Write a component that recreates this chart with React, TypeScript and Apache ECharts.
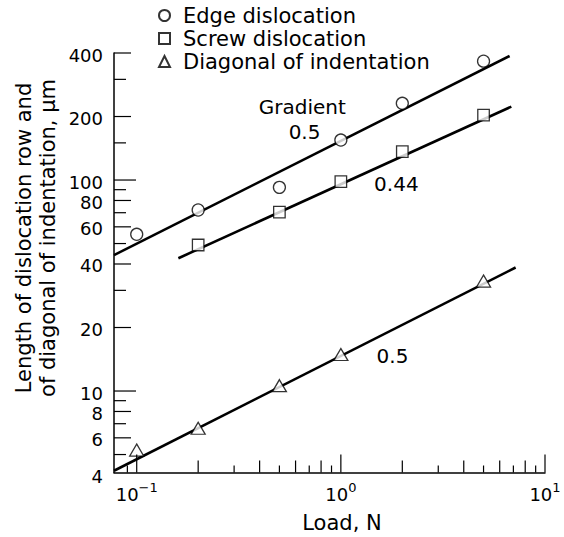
import React, { useEffect, useRef } from "react";
import * as echarts from "echarts";

// ---------- data ----------
const SERIES_NAMES = ["Edge dislocation", "Screw dislocation", "Diagonal of indentation"];

const EDGE_LOADS = [0.1, 0.2, 0.5, 1, 2, 5];
const EDGE_VALUES = [55.3, 72.1, 92.3, 154.7, 231, 366];

const SCREW_LOADS = [0.2, 0.5, 1, 2, 5];
const SCREW_VALUES = [49.2, 70.4, 98.3, 136.3, 203];

const DIAG_LOADS = [0.1, 0.2, 0.5, 1, 5];
const DIAG_VALUES = [5.25, 6.66, 10.6, 14.9, 33.2];

const EDGE_FIT_X = [0.0774, 6.71];
const EDGE_FIT_Y = [44.1, 387];
const SCREW_FIT_X = [0.16, 6.84];
const SCREW_FIT_Y = [42.6, 222.8];
const DIAG_FIT_X = [0.0774, 7.18];
const DIAG_FIT_Y = [4.19, 38.5];

const X_MIN = 0.0774;
const X_MAX = 10;
const Y_MIN = 4.11;
const Y_MAX = 400;

const X_TICKS = [0.09, 0.1, 0.2, 0.3, 0.4, 0.5, 0.6, 0.7, 0.8, 0.9, 1, 2, 3, 4, 5, 6, 7, 8, 9, 10];
const Y_TICKS = [5, 6, 7, 8, 9, 10, 20, 30, 40, 50, 60, 70, 80, 90, 100, 150, 200, 300, 400];
const Y_LABELS = [4, 6, 8, 10, 20, 40, 60, 80, 100, 200, 400];

const ANNOTATION_TEXTS = ["Gradient", "0.5", "0.44", "0.5"];
const ANNOTATION_X = [0.647, 0.664, 1.87, 1.79];
const ANNOTATION_Y = [221, 168, 95.4, 14.7];

const Y_TITLE = "Length of dislocation row and\nof diagonal of indentation, \u03bcm";
const X_TITLE = "Load, N";

// ---------- styles ----------
const FONT = "DejaVu Sans";
const X_TICK_LEN: Record<string, number> = { major: 18, even: 12, odd: 7 };
const Y_TICK_LEN: Record<string, number> = { major: 22, even: 17, odd: 12 };

function tickKind(v: number): string {
  const e = Math.floor(Math.log10(v) + 1e-9);
  const m = v / Math.pow(10, e);
  if (Math.abs(m - 1) < 1e-6) return "major";
  const r = Math.round(m);
  if (Math.abs(m - r) < 1e-6 && r % 2 === 0) return "even";
  return "odd";
}

const zip = (xs: number[], ys: number[]) => xs.map((x, i) => [x, ys[i]]);

const markerStyle = { color: "#fff", borderColor: "#000", borderWidth: 1.3 };
const fitStyle = { color: "#000", width: 2.6 };

export default function App() {
  const ref = useRef<HTMLDivElement>(null);

  useEffect(() => {
    if (!ref.current) return;
    const chart = echarts.init(ref.current, undefined, { renderer: "svg" });

    const option: any = {
      animation: false,
      backgroundColor: "#fff",
      grid: { left: 114, right: 19, top: 53, bottom: 64.5, containLabel: false },
      legend: {
        data: SERIES_NAMES.map((n) => ({ name: n })),
        orient: "vertical",
        left: 158,
        top: 4,
        padding: 0,
        itemGap: 0,
        itemWidth: 11,
        itemHeight: 11,
        selectedMode: false,
        textStyle: {
          fontSize: 21,
          fontFamily: FONT,
          color: "#000",
          lineHeight: 23,
          padding: [0, 0, 0, 8],
        },
      },
      xAxis: {
        type: "log",
        logBase: 10,
        min: X_MIN,
        max: X_MAX,
        axisLine: { lineStyle: { color: "#000", width: 1.5 } },
        axisTick: { show: false },
        minorTick: { show: false },
        splitLine: { show: false },
        axisLabel: {
          margin: 8,
          formatter: (v: number) => {
            const l = Math.log10(v);
            const e = Math.round(l);
            if (Math.abs(l - e) > 1e-6) return "";
            return `{b|10}{s|${e < 0 ? "\u2212" : ""}${Math.abs(e)}}`;
          },
          rich: {
            b: { fontSize: 18, fontFamily: FONT, color: "#000", lineHeight: 28 },
            s: { fontSize: 13, fontFamily: FONT, color: "#000", lineHeight: 13, verticalAlign: "top" },
          },
        },
      },
      yAxis: {
        type: "log",
        logBase: 10,
        min: Y_MIN,
        max: Y_MAX,
        axisLine: { lineStyle: { color: "#000", width: 1.5 } },
        axisTick: { show: false },
        minorTick: { show: false },
        splitLine: { show: false },
        axisLabel: { show: false },
      },
      graphic: [
        {
          type: "text",
          x: 36,
          y: 238,
          rotation: Math.PI / 2,
          style: {
            text: Y_TITLE,
            align: "center",
            verticalAlign: "middle",
            textAlign: "center",
            textVerticalAlign: "middle",
            fontSize: 21,
            fontFamily: FONT,
            lineHeight: 24.5,
            fill: "#000",
          },
        },
        {
          type: "text",
          x: 342,
          y: 523,
          style: {
            text: X_TITLE,
            align: "center",
            verticalAlign: "middle",
            textAlign: "center",
            textVerticalAlign: "middle",
            fontSize: 21,
            fontFamily: FONT,
            fill: "#000",
          },
        },
      ],
      series: [
        {
          type: "line",
          data: zip(EDGE_FIT_X, EDGE_FIT_Y),
          symbol: "none",
          lineStyle: fitStyle,
          silent: true,
          z: 2,
        },
        {
          type: "line",
          data: zip(SCREW_FIT_X, SCREW_FIT_Y),
          symbol: "none",
          lineStyle: fitStyle,
          silent: true,
          z: 2,
        },
        {
          type: "line",
          data: zip(DIAG_FIT_X, DIAG_FIT_Y),
          symbol: "none",
          lineStyle: fitStyle,
          silent: true,
          z: 2,
        },
        {
          name: SERIES_NAMES[0],
          type: "scatter",
          data: zip(EDGE_LOADS, EDGE_VALUES),
          symbol: "circle",
          symbolSize: 12,
          itemStyle: markerStyle,
          z: 3,
        },
        {
          name: SERIES_NAMES[1],
          type: "scatter",
          data: zip(SCREW_LOADS, SCREW_VALUES),
          symbol: "rect",
          symbolSize: 11.5,
          itemStyle: markerStyle,
          z: 3,
        },
        {
          name: SERIES_NAMES[2],
          type: "scatter",
          data: zip(DIAG_LOADS, DIAG_VALUES),
          symbol: "triangle",
          symbolSize: [14, 12],
          itemStyle: markerStyle,
          z: 3,
        },
        // x-axis ticks
        {
          type: "custom",
          silent: true,
          clip: false,
          z: 4,
          data: X_TICKS.map((v) => [v, Y_MIN]),
          encode: { x: 0, y: 1 },
          renderItem: (_p: any, api: any) => {
            const v = api.value(0);
            const pt = api.coord([v, Y_MIN]);
            const len = X_TICK_LEN[tickKind(v)];
            return {
              type: "line",
              shape: { x1: pt[0], y1: pt[1], x2: pt[0], y2: pt[1] - len },
              style: { stroke: "#000", lineWidth: 1.2 },
            };
          },
        },
        // y-axis ticks
        {
          type: "custom",
          silent: true,
          clip: false,
          z: 4,
          data: Y_TICKS.map((v) => [X_MIN, v]),
          encode: { x: 0, y: 1 },
          renderItem: (_p: any, api: any) => {
            const v = api.value(1);
            const pt = api.coord([X_MIN, v]);
            const len = Y_TICK_LEN[tickKind(v)];
            return {
              type: "line",
              shape: { x1: pt[0], y1: pt[1], x2: pt[0] + len, y2: pt[1] },
              style: { stroke: "#000", lineWidth: 1.2 },
            };
          },
        },
        // y-axis labels
        {
          type: "custom",
          silent: true,
          clip: false,
          z: 4,
          data: Y_LABELS.map((v) => [X_MIN, v]),
          encode: { x: 0, y: 1 },
          renderItem: (_p: any, api: any) => {
            const v = api.value(1);
            const pt = api.coord([X_MIN, v]);
            return {
              type: "text",
              x: pt[0] - 11,
              y: pt[1] + 2,
              style: {
                text: String(v),
                align: "right",
                verticalAlign: "middle",
                textAlign: "right",
                textVerticalAlign: "middle",
                fontSize: 18,
                fontFamily: FONT,
                fill: "#000",
              },
            };
          },
        },
        // annotations
        {
          type: "custom",
          silent: true,
          clip: false,
          z: 4,
          data: zip(ANNOTATION_X, ANNOTATION_Y),
          encode: { x: 0, y: 1 },
          renderItem: (p: any, api: any) => {
            const pt = api.coord([api.value(0), api.value(1)]);
            return {
              type: "text",
              x: pt[0],
              y: pt[1],
              style: {
                text: ANNOTATION_TEXTS[p.dataIndex],
                align: "center",
                verticalAlign: "middle",
                textAlign: "center",
                textVerticalAlign: "middle",
                fontSize: 20,
                fontFamily: FONT,
                fill: "#000",
              },
            };
          },
        },
      ],
    };

    chart.setOption(option);
    return () => chart.dispose();
  }, []);

  return (
    <div
      ref={ref}
      style={{ position: "fixed", left: 0, top: 0, width: 564, height: 537, background: "#fff" }}
    />
  );
}
